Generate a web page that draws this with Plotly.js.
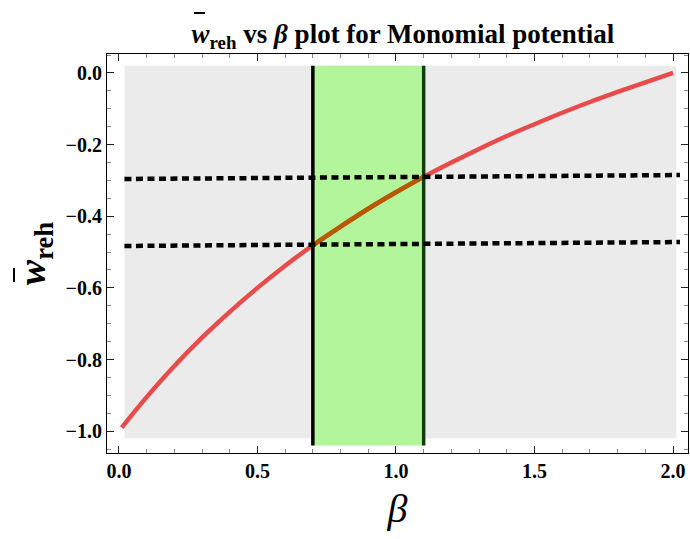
<!DOCTYPE html>
<html>
<head>
<meta charset="utf-8">
<script src="https://cdn.plot.ly/plotly-3.0.1.min.js"></script>
<style>
  html, body { margin: 0; padding: 0; background: #ffffff; }
  #chart { width: 690px; height: 539px; }
</style>
</head>
<body>
<div id="chart"></div>
<script>
// Effective equation of state during reheating vs monomial index beta
const beta = [0.01, 0.1, 0.2, 0.3, 0.4, 0.5, 0.6, 0.7, 0.8, 0.9, 1.0,
              1.1, 1.2, 1.3, 1.4, 1.5, 1.6, 1.7, 1.8, 1.9, 2.0];
const wreh = [-0.990, -0.905, -0.818, -0.739, -0.667, -0.600, -0.538, -0.481,
              -0.429, -0.379, -0.333, -0.290, -0.250, -0.212, -0.176, -0.143,
              -0.111, -0.081, -0.053, -0.026, 0.000];

// Allowed beta window
const bandBeta = [0.7, 1.1];

// Horizontal bounds on w_reh (left end, right end)
const boundX = [0.02, 2.025];
const upperBound = [-0.296, -0.285];
const lowerBound = [-0.483, -0.472];

// Shaded plot region
const regionX = [0.02, 2.012];
const regionY = [-1.02, 0.02];
const bandY = [-1.04, 0.02];

const tickVals = { x: [0, 0.5, 1.0, 1.5, 2.0], y: [0, -0.2, -0.4, -0.6, -0.8, -1.0] };
const tickText = {
  x: ['0.0', '0.5', '1.0', '1.5', '2.0'],
  y: ['0.0', '\u22120.2', '\u22120.4', '\u22120.6', '\u22120.8', '\u22121.0']
};

const inBand = beta.map((b, i) => i).filter(i => beta[i] >= bandBeta[0] - 1e-9 && beta[i] <= bandBeta[1] + 1e-9);

const serif = 'Liberation Serif';

const traces = [
  {
    x: beta, y: wreh, mode: 'lines', line: { color: '#e94b4b', width: 4.5, shape: 'spline' },
    hoverinfo: 'skip'
  },
  {
    x: inBand.map(i => beta[i]), y: inBand.map(i => wreh[i]), mode: 'lines',
    line: { color: '#b45a00', width: 4.5, shape: 'spline' }, hoverinfo: 'skip'
  },
  {
    x: [bandBeta[0], bandBeta[0]], y: bandY, mode: 'lines',
    line: { color: '#000000', width: 3.5 }, hoverinfo: 'skip'
  },
  {
    x: [bandBeta[1], bandBeta[1]], y: bandY, mode: 'lines',
    line: { color: '#123d12', width: 3.5 }, hoverinfo: 'skip'
  },
  {
    x: boundX, y: upperBound, mode: 'lines',
    line: { color: '#000000', width: 4.5, dash: '7px,4.5px' }, hoverinfo: 'skip'
  },
  {
    x: boundX, y: lowerBound, mode: 'lines',
    line: { color: '#000000', width: 4.5, dash: '7px,4.5px' }, hoverinfo: 'skip'
  }
];

const axisCommon = {
  showgrid: false, zeroline: false, showline: true, linecolor: '#000000', linewidth: 1,
  mirror: 'ticks', ticks: 'inside', ticklen: 7, tickcolor: '#222222', tickwidth: 1,
  tickfont: { family: serif, size: 20, color: '#000000', weight: 'bold' }
};

const layout = {
  width: 690, height: 539,
  margin: { l: 107, r: 2, t: 54, b: 86 },
  paper_bgcolor: '#ffffff', plot_bgcolor: '#ffffff',
  showlegend: false,
  font: { family: serif },
  title: {
    text: '<i>w</i><sub>reh</sub> vs <i>β</i> plot for Monomial potential',
    font: { family: serif, size: 27, color: '#000000', weight: 'bold' },
    x: 0.584, xanchor: 'center', xref: 'container', y: 0.938, yanchor: 'middle'
  },
  xaxis: Object.assign({}, axisCommon, {
    range: [-0.043, 2.054],
    tickvals: tickVals.x, ticktext: tickText.x,
    minor: { dtick: 0.1, ticks: 'inside', ticklen: 4, tickcolor: '#888888', tickwidth: 1 },
    title: { text: '<i>β</i>', font: { family: serif, size: 40, color: '#000000' }, standoff: 12 }
  }),
  yaxis: Object.assign({}, axisCommon, {
    range: [-1.061, 0.053],
    tickvals: tickVals.y, ticktext: tickText.y,
    minor: { dtick: 0.05, ticks: 'inside', ticklen: 4, tickcolor: '#888888', tickwidth: 1 },
    title: { text: '<i>w</i><sub>reh</sub>', font: { family: serif, size: 38, color: '#000000', weight: 'bold' }, standoff: 8 }
  }),
  shapes: [
    {
      type: 'rect', xref: 'x', yref: 'y', layer: 'below',
      x0: regionX[0], x1: regionX[1], y0: regionY[0], y1: regionY[1],
      fillcolor: '#ebebeb', line: { width: 0 }
    },
    {
      type: 'rect', xref: 'x', yref: 'y', layer: 'below',
      x0: bandBeta[0], x1: bandBeta[1], y0: bandY[0], y1: bandY[1],
      fillcolor: '#b3f59b', line: { width: 0 }
    },
    // overbar of w in the title
    {
      type: 'line', xref: 'paper', yref: 'paper',
      x0: (194 - 107) / 581, x1: (205 - 107) / 581, y0: (453 - 13) / 399, y1: (453 - 13) / 399,
      line: { color: '#000000', width: 2 }
    },
    // overbar of w in the vertical axis title
    {
      type: 'line', xref: 'paper', yref: 'paper',
      x0: (14 - 107) / 581, x1: (14 - 107) / 581, y0: (453 - 268) / 399, y1: (453 - 282) / 399,
      line: { color: '#000000', width: 2 }
    }
  ]
};

Plotly.newPlot('chart', traces, layout, { displayModeBar: false, staticPlot: true });
</script>
</body>
</html>
